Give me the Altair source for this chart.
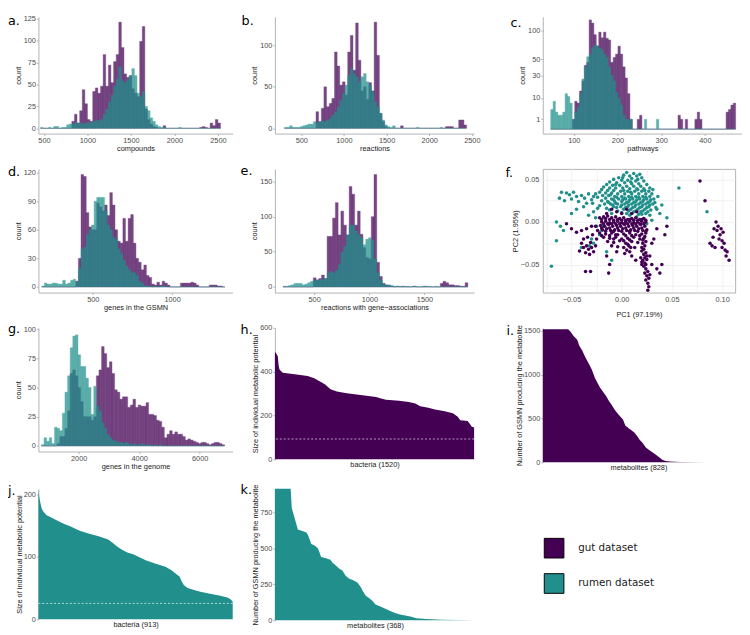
import altair as alt
import pandas as pd

GUT = "#440154"
RUMEN = "#21908C"
FONT = "Liberation Sans"
DATASETS = ["gut", "rumen"]

# ---------------- a. compounds (bin start 460, width 30)
A_START, A_STEP = 460, 30
A_GUT = [0,0,0,0,0,0,0,0,0,0,0,0, 8,16,6,20,44,28,10,8,42,46,40,48,84,48,72,52,76,84,121,92,62,58,60,45,40,36,99,116,22,10,5,2,1,0,0,3,
         0,0,0,0,0,0,0,0,0,0,0,0,0, 1,2,1,0,6,3,10,6]
A_RUMEN = [1,0,0,1,0,2,2,0,1,1, 4,5,5,6,6,6,5,6,7,7, 8,9,9,10,16,22,30,38,48,56, 70,54,52,56,60,68,60,40,36,42, 25,20,12,8,4,2,1,1,
           0,0,0,0,0, 1, 0,0,0,0,0,0,0,0,0,0,0,0,0,0,0]

# ---------------- b. reactions (bin start 300, width 31)
B_START, B_STEP = 300, 31
B_GUT = [0,0,0,0,0,0,0,0,0,0,0,0, 20,8,24,50,26,30,36,92,75,52, 56,40,92,112,70,127,82,45,50,35, 55,45,128,88,18,8,2,
         0,0,0,0,0, 3, 0,0,0,0,0,0,0,0,0,0,0,0,0,0,0,0, 2,2,2,0,0,10,10,4]
B_RUMEN = [1,1,3,1,1,1,2,3,4,5, 5,8,6,8,9,8,10,12,16,20, 26,34,42,52,64,72,66,62,56,62, 66,56,52,44,32,26,18,10,4,2, 1,3,
           0,0,0,0,0,0,0,0, 1, 0,0,0,0,0,0,0,0, 1, 0,0,0,0,0,0,0,0,0]

# ---------------- c. pathways (bin start 47, width 5.5), sqrt count axis
C_START, C_STEP = 47, 5.5
C_GUT = [0,0,0,0,0,0,0,0,0, 1,8,7,15,24,42,46,123,116,92, 71,97,86,97,85,82,46,53,58,71, 58,40,27,13,1, 0,0, 1,2,
         0,0,0,0,0,0,0,0,0,0,0,0,0,0,0, 2,1,0,1, 0,0,0, 1,3,1, 0,0,0,0,0,0,0,0,0,0, 3,4,6,7]
C_RUMEN = [4,8,3,2,2,3,13,11,7,1, 3,5,13,26,40,54,58,69,72,72, 68,65,58,53,40,30,24,14,10,6, 2,1,1,1, 0,0,0,0,0, 1, 0,0,0,0, 1,
           0,0,0,0,0,0,0,0,0,0,0,0,0,0,0,0,0,0,0,0,0,0,0,0,0,0,0,0,0,0,0,0]

# ---------------- d. genes in the GSMN (bin start 178, width 16.5)
D_START, D_STEP = 178, 16.5
D_GUT = [0,0,0,0,0,0,0,0,0,0,0,0,0, 6,30,118,116,78,63,60,60,88,84, 80,86,75,99,86,60,48,46,72,48, 72,76,46,30,26,18,23,12,10,3,
         2,5,2,6,4,2, 0,0,0,0, 4,4,4,4,5,4,2, 0,0,0,0, 2,2,2,1,1,0]
D_RUMEN = [1,4,3,3,4,4,3,3,7,3, 4,7,8,5,20,40,42,55,60,65, 90,94,94,94,80,65,60,52,50,40, 35,28,22,18,15,15,12,6,4,1, 1,1,0,1,0,1,1,1,
           0,0,0,0,0,0,0,0,0,0,0,0,0,0,0,0,0,0,0,0,0,0]

# ---------------- e. reactions with gene-associations (bin start 217.5, width 25)
E_START, E_STEP = 217.5, 25
E_GUT = [0,0,0,0,0,0,0,0,0,0,0, 13,10,12,17,12,72,72,98,120,74, 108,88,74,143,132,88,108,75,56,42, 40,100,160,35,15,5,3,2,1,
         0,1,0,1, 0,0,0, 1, 0,0,0, 1, 0,0,0,0,0, 5,8,6,3,3,2,2,1,1,6]
E_RUMEN = [1,1,2,3,5,5,5,3,4,6, 8,9,10,10,11,12,20,22,20,24, 32,50,58,74,88,88,80,75,70,60, 68,70,66,40,20,10,5,2,3,2,
           1,1,1,0,1,1,0,1,1,0, 1,0,1,1,0,1,0, 0,0,0,0,0,0,0,0,0,0]

# ---------------- g. genes in the genome (bin start 767.75, width 86.5)
G_START, G_STEP = 767.75, 86.5
G_GUT = [0,0,0,0,0,0, 2,8,8,15,30,62,65,60,50,38, 25,25,25,22,25,60,65,85,79,67, 72,62,48,46,40,42,42,33,35,40,
         33,35,34,34,37,27,27,26,22,21, 16,7,10,13,10,12,10,10,8,5, 6,5,4,3,2,3,3,2,1,2, 3,3,2,1]
G_RUMEN = [1,7,4,7,2,16,15,13,28,46, 60,84,94,95,78,68,68,58,50,27, 51,34,30,20,15,10,7,5,4,3, 3,2,3,2,1,2,1,1,2,1, 1,1,0,1,0,1,
           0,0,0,0,0,0,0,0,0,0,0,0,0,0,0,0,0,0,0,0,0,0,0,0]

# ---------------- f. PCA scatter (values x1000)
F_RUMEN = [(5,58),(12,57),(18,56),(2,55),(8,54),(15,54),(-3,52),(10,51),(20,52),(-8,50),(0,49),(6,49),(14,48),(22,48),
           (-12,47),(-5,46),(3,46),(10,45),(17,45),(25,44),(-15,44),(-9,43),(-2,43),(5,42),(12,42),(19,42),(-18,41),
           (-12,40),(-6,40),(1,40),(8,39),(15,39),(22,39),(28,40),(-20,38),(-14,37),(-8,37),(-1,36),(6,36),(13,36),
           (20,36),(27,36),(-22,35),(-16,34),(-10,34),(-4,33),(3,33),(10,33),(17,33),(24,33),(30,33),(-19,31),(-13,31),
           (-7,30),(0,30),(7,30),(14,30),(21,30),(28,30),(-24,29),(-16,28),(-10,27),(-3,27),(4,27),(11,27),(18,27),
           (25,27),(32,27),(-20,25),(-14,24),(-7,24),(0,24),(7,24),(14,24),(21,24),(28,24),(-17,21),(-11,21),(-4,21),
           (3,21),(10,21),(17,21),(24,21),(31,21),(-22,19),(-8,18),(-1,18),(6,18),(13,18),(20,18),(27,18),(34,17),
           (-15,16),(2,15),(9,15),(16,15),(23,15),(-4,13),(12,12),(19,12),(26,12),(5,10),(20,9),(28,8),(15,6),(22,4),
           (30,2),(25,-2),(8,8),(-10,10),
           (1,52),(9,47),(16,50),(-6,44),(2,37),(9,35),(16,38),(23,37),(-11,32),(-5,29),(3,28),(10,29),(17,29),(24,29),
           (-8,26),(1,26),(8,26),(15,26),(22,26),(29,26),(-13,23),(-6,22),(5,23),(12,23),(19,23),(26,23),(-9,20),(0,20),
           (7,20),(14,20),(21,20),(28,20),(-5,17),(4,17),(11,17),(18,17),(25,17),(-12,14),(7,13),(14,13),(21,13),(29,14),
           (0,11),(10,10),(17,9),(24,10),(33,23),(36,30),(31,38),(-26,33),(-29,22),(-24,16),
           (-60,35),(-55,34),(-52,32),(-48,35),(-45,30),(-40,31),(-37,28),(-33,33),(-30,26),(-28,30),(-62,28),(-57,25),
           (-50,27),(-43,24),(-35,22),(-38,18),(-45,15),(-50,10),(-28,12),(-33,8),(-26,5),(-65,0),(-58,-10),(-65,-22),
           (-70,-52),(-61,-5),(35,15),(40,20),(38,10),(57,40),(85,12),(45,5),
           (-30,-20),(-28,-25),(-32,-28),(-22,-15),(-18,-5),(-25,-5),(-40,-30),(-15,-35),(-20,-10),(-10,-45)]
F_GUT = [(-22,5),(-18,6),(-14,7),(-10,5),(-6,6),(-2,4),(2,5),(6,3),(10,4),(14,5),(18,3),(22,4),(-20,0),(-16,1),(-12,-1),
         (-8,0),(-4,1),(0,-1),(4,0),(8,1),(12,-1),(16,0),(20,1),(24,0),(-21,-4),(-17,-5),(-13,-3),(-9,-5),(-5,-4),(-1,-5),
         (3,-3),(7,-5),(11,-4),(15,-5),(19,-3),(23,-5),(-19,-9),(-15,-8),(-11,-10),(-7,-9),(-3,-10),(1,-8),(5,-10),(9,-9),
         (13,-10),(17,-8),(21,-10),(25,-9),(-22,-13),(-16,-14),(-10,-13),(-4,-15),(2,-14),(8,-13),(14,-15),(20,-14),
         (24,-13),(-18,-18),(-12,-19),(-6,-18),(0,-20),(6,-19),(12,-18),(18,-20),(22,-19),(-14,-23),(-8,-24),(-2,-22),
         (4,-25),(10,-23),(16,-24),(21,-25),(24,-23),(-10,-28),(-4,-29),(2,-30),(7,-28),(13,-30),(20,-30),(23,-28),(5,-33),
         (8,-35),(3,-37),(20,-34),(22,-38),(24,-36),(19,-42),(21,-45),(23,-48),(25,-44),(22,-52),(24,-55),(26,-58),(23,-60),
         (25,-63),(27,-66),(24,-68),(26,-72),(27,-76),(26,-80),(28,-62),(20,-50),
         (-20,3),(-16,4),(-12,3),(-8,2),(-4,3),(0,2),(4,2),(8,3),(12,2),(16,2),(20,3),(24,2),(-18,-2),(-14,-2),(-10,-2),
         (-6,-2),(-2,-2),(2,-2),(6,-2),(10,-2),(14,-2),(18,-2),(22,-2),(-20,-7),(-12,-7),(-4,-7),(4,-7),(12,-7),(20,-7),
         (-16,-11),(-8,-11),(0,-11),(8,-11),(16,-11),(24,-11),(-20,-16),(-12,-16),(-6,-15),(4,-16),(10,-16),(18,-16),
         (23,-17),(-8,-20),(2,-22),(8,-21),(21,-21),(6,-26),(9,-30),(22,-32),(25,-40),(23,-42),(20,-47),(24,-50),
         (-15,10),(-5,12),(0,10),(10,10),(-10,15),(5,15),(15,12),
         (-40,-25),(-38,-30),(-35,-28),(-33,-32),(-36,-36),(-32,-38),(-30,-30),(-28,-35),(-31,-24),(-26,-28),(-38,-20),
         (-34,-18),(-29,-15),(-25,-20),(-42,-34),(-36,-58),(-31,-58),(-24,-10),(-26,-5),(-30,-5),(-35,-8),(-40,-10),
         (-45,-12),(-50,-8),(-55,-2),
         (-13,-60),(-12,-50),(-15,-40),(-5,-35),(10,-40),(14,-45),(30,-50),(35,-55),(38,-60),(40,-50),(43,-15),(45,-5),
         (35,-8),(32,-20),(30,-25),(28,-40),
         (94,0),(96,-5),(95,-10),(98,-15),(97,-20),(100,-22),(102,-25),(100,-30),(103,-33),(105,-35),(104,-40),(107,-45),
         (88,-25),(90,-28),(93,-30),(91,-18),(99,-8),(92,-8),(101,-12),(78,48),(83,25)]

# ---------------- h-k. ranked metabolic potentials
H_RANK = [0, 8, 22, 28, 35, 60, 150, 250, 300, 330, 361, 386, 424, 473, 548, 623, 698, 772, 797, 847, 947, 1022, 1071,
          1109, 1171, 1221, 1296, 1358, 1395, 1415, 1470, 1490, 1500, 1520]
H_VAL = [490, 485, 470, 430, 410, 395, 388, 380, 370, 360, 350, 340, 320, 310, 302, 296, 290, 285, 280, 272, 268, 262, 255,
         242, 235, 228, 220, 210, 195, 178, 175, 160, 150, 145]
H_REF = 93
I_RANK = [0, 110, 120, 134, 149, 158, 170, 184, 198, 212, 226, 238, 248, 262, 276, 286, 297, 311, 323, 333, 347, 357, 371,
          382, 396, 408, 418, 432, 446, 460, 474, 488, 502, 517, 531, 552, 594, 708, 828]
I_VAL = [1520, 1520, 1490, 1440, 1400, 1330, 1280, 1200, 1130, 1060, 960, 900, 850, 800, 750, 700, 660, 600, 560, 530, 490,
         420, 390, 370, 340, 300, 260, 220, 170, 140, 115, 90, 60, 30, 15, 10, 5, 2, 1]
J_RANK = [0, 2, 7, 15, 22, 37, 60, 90, 119, 149, 194, 239, 283, 328, 351, 373, 395, 418, 448, 477, 507, 552, 597, 627, 649,
          664, 671, 683, 701, 731, 761, 806, 850, 888, 903, 913]
J_VAL = [208, 200, 190, 178, 173, 167, 163, 158, 153, 149, 142, 137, 133, 128, 122, 116, 111, 107, 104, 99, 94, 89, 84, 78,
         72, 68, 62, 55, 50, 47, 44, 41, 38, 35, 32, 28]
J_REF = 25.5
K_RANK = [0, 29, 31, 34, 37, 40, 42, 49, 58, 61, 64, 67, 73, 79, 82, 85, 94, 102, 106, 112, 118, 124, 130, 136, 146, 152,
          158, 162, 167, 173, 179, 185, 194, 203, 212, 221, 230, 242, 251, 260, 278, 308, 338, 368]
K_VAL = [913, 913, 780, 740, 700, 660, 630, 622, 610, 590, 560, 530, 520, 500, 470, 440, 430, 420, 400, 380, 360, 345, 310,
         290, 275, 260, 230, 200, 170, 155, 135, 110, 95, 80, 65, 50, 40, 32, 25, 15, 9, 4, 2, 1]

LEGEND_LABELS = ["gut dataset", "rumen dataset"]

COLOR_SCALE = alt.Scale(domain=DATASETS, range=[GUT, RUMEN])
TITLE_COLOR = "#1a1a1a"


def letter(t, lx, ly):
    return alt.Chart(pd.DataFrame({"t": [t]})).mark_text(
        align="left", baseline="middle", fontSize=13, font="DejaVu Sans", color="black"
    ).encode(x=alt.value(lx), y=alt.value(ly), text="t:N")


def spacer(w, h):
    return alt.Chart(pd.DataFrame({"z": [0]})).mark_point(opacity=0, size=1).encode(
        x=alt.value(0), y=alt.value(0)).properties(width=w, height=h)


def hist_frame(start, step, gut, rumen):
    rows = []
    for name, counts in zip(DATASETS, (gut, rumen)):
        for i, c in enumerate(counts):
            rows.append({"start": start + i * step, "end": start + (i + 1) * step, "count": c, "dataset": name})
    return pd.DataFrame(rows)


def hist_panel(start, step, gut, rumen, xdom, ydom, xvals, yvals, xtitle, w, h, lab, lx, ly, ytype="linear"):
    df = hist_frame(start, step, gut, rumen)
    bars = alt.Chart(df).mark_bar(opacity=0.72, strokeWidth=0.4).encode(
        x=alt.X("start:Q", scale=alt.Scale(domain=xdom, nice=False, zero=False),
                axis=alt.Axis(values=xvals, format="d", title=xtitle, titleColor=TITLE_COLOR,
                              tickSize=2, labelPadding=1, titlePadding=1)),
        x2="end:Q",
        y=alt.Y("count:Q", scale=alt.Scale(type=ytype, domain=ydom, nice=False, zero=False),
                axis=alt.Axis(values=yvals, format="d", title="count", titleColor=TITLE_COLOR,
                              tickSize=2, labelPadding=1, titlePadding=1)),
        y2=alt.Y2Datum(0),
        color=alt.Color("dataset:N", scale=COLOR_SCALE, legend=None),
        stroke=alt.Stroke("dataset:N", scale=COLOR_SCALE, legend=None),
    )
    return alt.layer(bars, letter(lab, lx, ly)).properties(width=w, height=h)


def area_panel(rank, val, color, xdom, ydom, yvals, xtitle, ytitle, w, h, lab, lx, ly, ref=None, ref_color="white"):
    df = pd.DataFrame({"rank": rank, "value": val})
    area = alt.Chart(df).mark_area(color=color, opacity=1, interpolate="linear").encode(
        x=alt.X("rank:Q", scale=alt.Scale(domain=xdom, nice=False, zero=False),
                axis=alt.Axis(title=xtitle, titleColor=TITLE_COLOR, labels=False, ticks=False, domain=False,
                              tickSize=0, labelPadding=0, titlePadding=1)),
        y=alt.Y("value:Q", scale=alt.Scale(domain=ydom, nice=False, zero=False),
                axis=alt.Axis(values=yvals, format="d", title=ytitle, titleColor=TITLE_COLOR,
                              tickSize=2, labelPadding=1, titlePadding=0)),
    )
    layers = [area]
    if ref is not None:
        layers.append(alt.Chart(pd.DataFrame({"value": [ref]})).mark_rule(
            color=ref_color, strokeDash=[2, 2], strokeWidth=0.8).encode(y="value:Q"))
    layers.append(letter(lab, lx, ly))
    return alt.layer(*layers).properties(width=w, height=h)


a = hist_panel(A_START, A_STEP, A_GUT, A_RUMEN, [436, 2670], [-6, 127], [500, 1000, 1500, 2000, 2500],
               [0, 25, 50, 75, 100, 125], "compounds", 198, 119, "a.", -31, 4)
b = hist_panel(B_START, B_STEP, B_GUT, B_RUMEN, [190, 2527], [-6.4, 134.4], [500, 1000, 1500, 2000, 2500],
               [0, 50, 100], "reactions", 203, 119, "b.", -34, 4)
c = hist_panel(C_START, C_STEP, C_GUT, C_RUMEN, [29, 485], [-0.2, 130], [100, 200, 300, 400],
               [1, 10, 30, 50, 100], "pathways", 203, 119, "c.", -33, 6, ytype="sqrt")
d = hist_panel(D_START, D_STEP, D_GUT, D_RUMEN, [157, 1382], [-5.9, 123.9], [500, 1000],
               [0, 30, 60, 90, 120], "genes in the GSMN", 198, 126, "d.", -31, 3)
e = hist_panel(E_START, E_STEP, E_GUT, E_RUMEN, [145, 1949], [-8, 168], [500, 1000, 1500],
               [0, 50, 100, 150], "reactions with gene\u2212associations", 203, 126, "e.", -35, 2)
g = hist_panel(G_START, G_STEP, G_GUT, G_RUMEN, [670, 7093], [-4.8, 101], [2000, 4000, 6000],
               [0, 25, 50, 75, 100], "genes in the genome", 198, 126, "g.", -31, 1)

# f. PCA scatter
f_rows = ([{"pc1": x / 1000, "pc2": y / 1000, "dataset": "rumen"} for x, y in F_RUMEN] +
          [{"pc1": x / 1000, "pc2": y / 1000, "dataset": "gut"} for x, y in F_GUT])
f_df = pd.DataFrame(f_rows)
lab_expr = "abs(round(datum.value * 1000)) % 50 == 0 ? format(datum.value, '.2f') : ''"
pts = alt.Chart(f_df).mark_circle(size=13, opacity=1).encode(
    x=alt.X("pc1:Q", scale=alt.Scale(domain=[-0.0786, 0.113], nice=False, zero=False),
            axis=alt.Axis(values=[-0.075, -0.05, -0.025, 0.0, 0.025, 0.05, 0.075, 0.1], labelExpr=lab_expr,
                          title="PC1 (97.19%)", titleColor=TITLE_COLOR, grid=True, gridColor="#ebebeb",
                          gridWidth=0.7, domain=False, ticks=False, tickSize=0, labelPadding=3, titlePadding=8)),
    y=alt.Y("pc2:Q", scale=alt.Scale(domain=[-0.0828, 0.0623], nice=False, zero=False),
            axis=alt.Axis(values=[-0.075, -0.05, -0.025, 0.0, 0.025, 0.05], labelExpr=lab_expr,
                          title="PC2 (1.95%)", titleColor=TITLE_COLOR, grid=True, gridColor="#ebebeb",
                          gridWidth=0.7, domain=False, ticks=False, tickSize=0, labelPadding=4, titlePadding=1)),
    color=alt.Color("dataset:N", scale=COLOR_SCALE, legend=None),
)
f = alt.layer(pts, letter("f.", -38, 4)).properties(
    width=196, height=126, view=alt.ViewBackground(stroke="#b3b3b3", strokeWidth=1))

h = area_panel(H_RANK, H_VAL, GUT, [0, 1520], [0, 600], [0, 100, 200, 300, 400, 500, 600], "bacteria (1520)",
               "Size of individual metabolic potential", 203, 134, "h.", -35, 2, ref=H_REF, ref_color="#d8c8e6")
i = area_panel(I_RANK, I_VAL, GUT, [0, 828], [0, 1535], [0, 500, 1000, 1500], "metabolites (828)",
               "Number of GSMN producing the metabolite", 195, 137, "i.", -37, 3)
j = area_panel(J_RANK, J_VAL, RUMEN, [0, 913], [0, 209], [0, 50, 100, 150, 200], "bacteria (913)",
               "Size of individual metabolic potential", 198, 133, "j.", -31, 2, ref=J_REF, ref_color="#d4eeeb")
k = area_panel(K_RANK, K_VAL, RUMEN, [0, 368], [0, 913], [0, 250, 500, 750], "metabolites (368)",
               "Number of GSMN producing the metabolite", 204, 134, "k.", -35, 1)

leg = alt.Chart(pd.DataFrame({"group": LEGEND_LABELS})).mark_square(
    size=400, filled=True, opacity=0, stroke="black", strokeWidth=1
).encode(
    x=alt.value(75), y=alt.value(67),
    fill=alt.Fill("group:N", scale=alt.Scale(domain=LEGEND_LABELS, range=[GUT, RUMEN]),
                  legend=alt.Legend(title=None, orient="none", legendX=1, legendY=50, symbolType="square",
                                    symbolSize=400, symbolOpacity=1, symbolStrokeColor="black",
                                    symbolStrokeWidth=1, labelFont="DejaVu Sans", labelFontSize=10.5,
                                    labelColor="#1a1a1a", labelOffset=14, rowPadding=11, padding=0)),
).properties(width=150, height=134)


def vrow(hgt):
    return [spacer(1, hgt)] + [spacer(1, 1) for _ in range(5)]


cells = ([spacer(7, 1), a, spacer(43, 1), b, spacer(63, 1), c] + vrow(36) +
         [spacer(7, 1), d, spacer(43, 1), e, spacer(69, 1), f] + vrow(36) +
         [spacer(7, 1), g, spacer(43, 1), h, spacer(67, 1), i] + vrow(27) +
         [spacer(7, 1), j, spacer(42, 1), k, spacer(64, 1), leg])

chart = alt.concat(*cells, columns=6, spacing=0, bounds="flush",
                   align={"row": "each", "column": "none"}).properties(padding=0)
chart = chart.resolve_scale(color="independent", stroke="independent", fill="independent").resolve_legend(
    color="independent", fill="independent", stroke="independent")
chart = chart.configure_view(strokeWidth=0).configure_axis(
    labelFont=FONT, labelFontSize=7.5, labelColor="#4d4d4d",
    titleFont=FONT, titleFontSize=7.5, titleColor=TITLE_COLOR, titleFontWeight="normal",
    domainColor="#b3b3b3", tickColor="#b3b3b3", grid=False, labelFlush=False)

chart.save("out.html", embed_options={"renderer": "svg", "actions": False})
